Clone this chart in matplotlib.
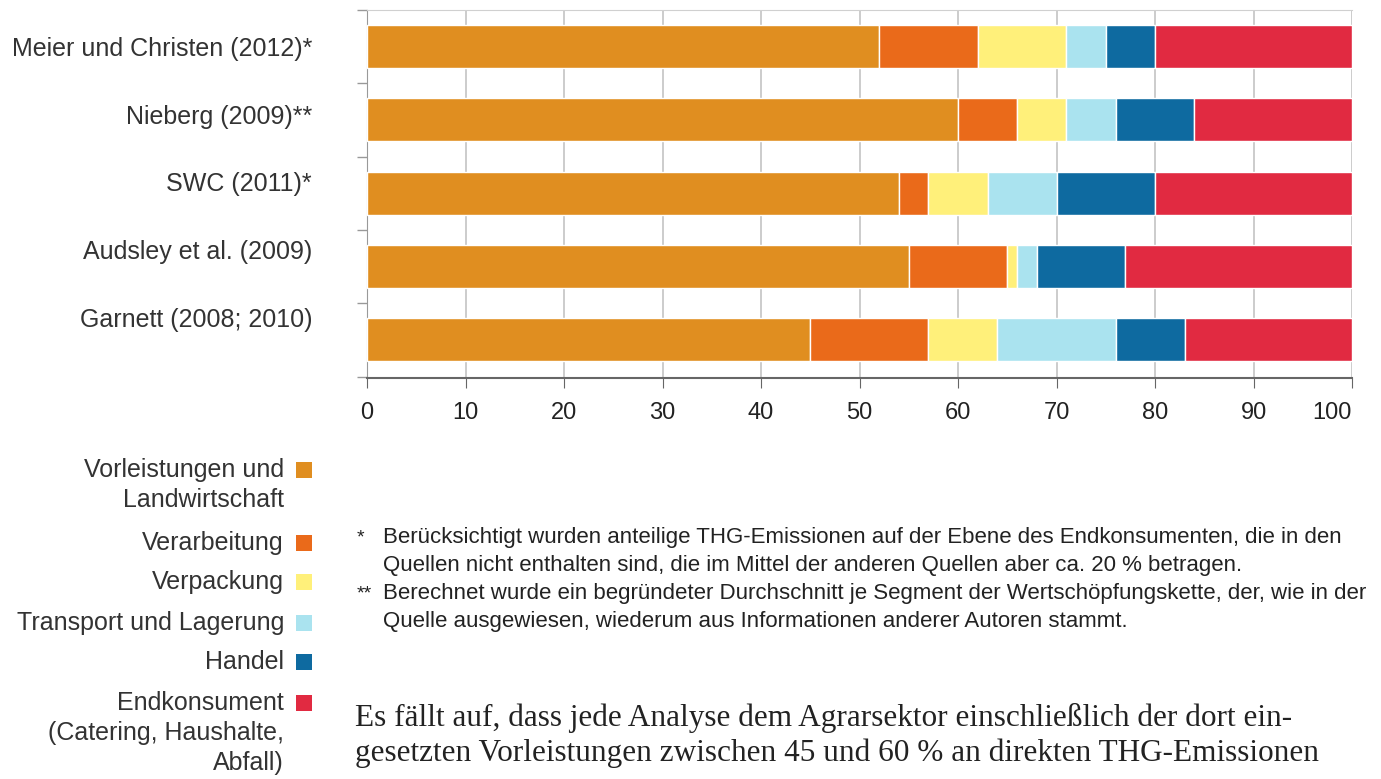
import numpy as np
import matplotlib.pyplot as plt
from matplotlib.patches import Rectangle

studies = ['Meier und Christen (2012)*', 'Nieberg (2009)**', 'SWC (2011)*',
           'Audsley et al. (2009)', 'Garnett (2008; 2010)']
segments = ['Vorleistungen und\nLandwirtschaft', 'Verarbeitung', 'Verpackung',
            'Transport und Lagerung', 'Handel',
            'Endkonsument\n(Catering, Haushalte,\nAbfall)']
vorleistung = [52, 60, 54, 55, 45]
verarbeitung = [10, 6, 3, 10, 12]
verpackung = [9, 5, 6, 1, 7]
transport = [4, 5, 7, 2, 12]
handel = [5, 8, 10, 9, 7]
endkonsum = [20, 16, 20, 23, 17]
colors = ['#e08e20', '#ea6a1a', '#fff07a', '#aae3ef', '#0e6aa0', '#e12a41']

footnotes = [('*', 'Berücksichtigt wurden anteilige THG-Emissionen auf der Ebene des Endkonsumenten, die in den\n'
                   'Quellen nicht enthalten sind, die im Mittel der anderen Quellen aber ca. 20 % betragen.'),
             ('**', 'Berechnet wurde ein begründeter Durchschnitt je Segment der Wertschöpfungskette, der, wie in der\n'
                    'Quelle ausgewiesen, wiederum aus Informationen anderer Autoren stammt.')]
body = ['Es fällt auf, dass jede Analyse dem Agrarsektor einschließlich der dort ein-',
        'gesetzten Vorleistungen zwischen 45 und 60 % an direkten THG-Emissionen']

plt.rcParams['font.family'] = ['Liberation Sans', 'DejaVu Sans']
W, H = 1381, 779
fig = plt.figure(figsize=(W/100, H/100), dpi=100)
ax = fig.add_axes([367/W, 1-378/H, 985/W, 368/H])

series = [vorleistung, verarbeitung, verpackung, transport, handel, endkonsum]
y = np.arange(len(studies))
left = np.zeros(len(studies))
for vals, c in zip(series, colors):
    ax.barh(y, vals, left=left, height=0.587, color=c, edgecolor='white', linewidth=1, zorder=3)
    left += np.array(vals)

ax.set_xlim(0, 100)
ax.set_ylim(4.52, -0.5)
ax.set_xticks(np.arange(0, 101, 10))
ax.tick_params(axis='x', labelsize=17, length=7, pad=10, color='#666', labelcolor='#222')
ax.get_xticklabels()[-1].set_horizontalalignment('right')
ax.set_yticks(np.arange(-0.5, 4.6, 1))
ax.set_yticklabels([])
ax.tick_params(axis='y', length=7, color='#999', width=1)
ax.grid(axis='x', color='#c4c4c4', linewidth=1.2, zorder=0)
ax.spines['right'].set_visible(False)
ax.spines['top'].set_color('#d0d0d0')
ax.spines['left'].set_color('#999')
ax.spines['bottom'].set_color('#666')
ax.spines['bottom'].set_linewidth(1.5)

# category labels sit a bit above the bars further down
for i, s in enumerate(studies):
    ax.text(-55/985, 0.03 + i*0.925, s, transform=ax.get_yaxis_transform(),
            ha='right', va='center', fontsize=18, color='#333')

# legend on the left
rows = [470, 543, 582, 623, 662, 703]
for lab, c, r in zip(segments, colors, rows):
    for j, line in enumerate(lab.split('\n')):
        fig.text(284/W, 1-(r + j*30)/H, line, ha='right', va='center', fontsize=18, color='#333')
    fig.patches.append(Rectangle((296/W, 1-(r+8)/H), 16/W, 16/H, transform=fig.transFigure,
                                 facecolor=c, edgecolor='none'))

# footnotes
fy = 538
for mark, txt in footnotes:
    fig.text(357/W, 1-fy/H, mark, ha='left', va='center', fontsize=14, color='#222')
    for j, line in enumerate(txt.split('\n')):
        fig.text(383/W, 1-(fy + j*28)/H, line, ha='left', va='center', fontsize=16, color='#222')
    fy += 56

for j, line in enumerate(body):
    fig.text(355/W, 1-(718 + j*35)/H, line, ha='left', va='center', fontsize=22.5,
             family='Liberation Serif', color='#222')

fig.savefig('out.png', dpi=100)
